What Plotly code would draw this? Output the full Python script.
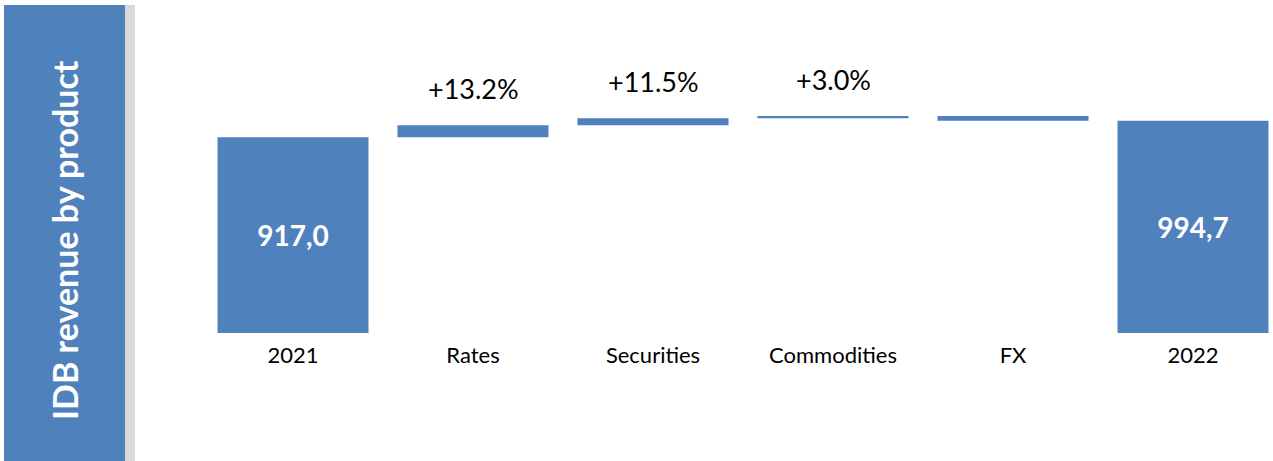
import plotly.graph_objects as go

categories = ["2021", "Rates", "Securities", "Commodities", "FX", "2022"]
values = [917.0, 56.0, 33.0, 10.0, -21.3, 994.7]
measures = ["absolute", "relative", "relative", "relative", "relative", "total"]
total_labels = ["917,0", "", "", "", "", "994,7"]
growth_labels = ["", "+13.2%", "+11.5%", "+3.0%", "", ""]
panel_title = "IDB revenue by product"

BLUE = "#4F81BD"
FONT = "Lato"

fig = go.Figure()
fig.add_trace(go.Waterfall(
    x=categories,
    y=values,
    measure=measures,
    text=total_labels,
    textposition="inside",
    insidetextanchor="middle",
    textfont=dict(family=FONT, size=28, color="white", weight="bold"),
    increasing=dict(marker=dict(color=BLUE)),
    decreasing=dict(marker=dict(color=BLUE)),
    totals=dict(marker=dict(color=BLUE)),
    connector=dict(visible=False),
    hoverinfo="skip",
))

# growth labels above the relative bars
running = 0.0
tops = []
for v, m in zip(values, measures):
    if m == "absolute" or m == "total":
        running = v
        tops.append(v)
    else:
        prev = running
        running += v
        tops.append(max(prev, running))

annotations = []
for c, t, lab in zip(categories, tops, growth_labels):
    if lab:
        annotations.append(dict(
            x=c, y=t, xref="x", yref="y", text=lab, showarrow=False,
            yanchor="bottom", yshift=18,
            font=dict(family=FONT, size=27, color="black"),
        ))

L, W = 203, 1069
T, H = 5, 328


def px_x(p):
    return (p - L) / W


def px_y(p):
    return (T + H - p) / H


annotations.append(dict(
    x=px_x(64), y=px_y(240), xref="paper", yref="paper",
    xanchor="center", yanchor="middle",
    text=panel_title, showarrow=False, textangle=-90,
    font=dict(family=FONT, size=34, color="white", weight="bold"),
))

shapes = [
    dict(type="rect", xref="paper", yref="paper",
         x0=px_x(125), x1=px_x(135), y0=px_y(461), y1=px_y(5),
         fillcolor="#D9D9D9", line=dict(width=0), layer="below"),
    dict(type="rect", xref="paper", yref="paper",
         x0=px_x(4), x1=px_x(125), y0=px_y(461), y1=px_y(5),
         fillcolor=BLUE, line=dict(width=0), layer="below"),
]

fig.update_layout(
    width=1273, height=461,
    margin=dict(l=L, r=1273 - L - W, t=T, b=461 - T - H),
    paper_bgcolor="white", plot_bgcolor="white",
    showlegend=False,
    waterfallgap=0.161,
    annotations=annotations,
    shapes=shapes,
    xaxis=dict(
        type="category", range=[-0.5, -0.5 + W / 180.0],
        showgrid=False, zeroline=False, showline=False,
        ticks="outside", ticklen=3, tickcolor="rgba(0,0,0,0)",
        tickfont=dict(family=FONT, size=22, color="black"),
    ),
    yaxis=dict(
        range=[0, H / 0.2135], visible=False, showgrid=False, zeroline=False,
    ),
)

fig.write_html(
    "out.html",
    config={"displayModeBar": False},
    post_script="document.body.style.margin='0';document.body.style.overflow='hidden';",
)
